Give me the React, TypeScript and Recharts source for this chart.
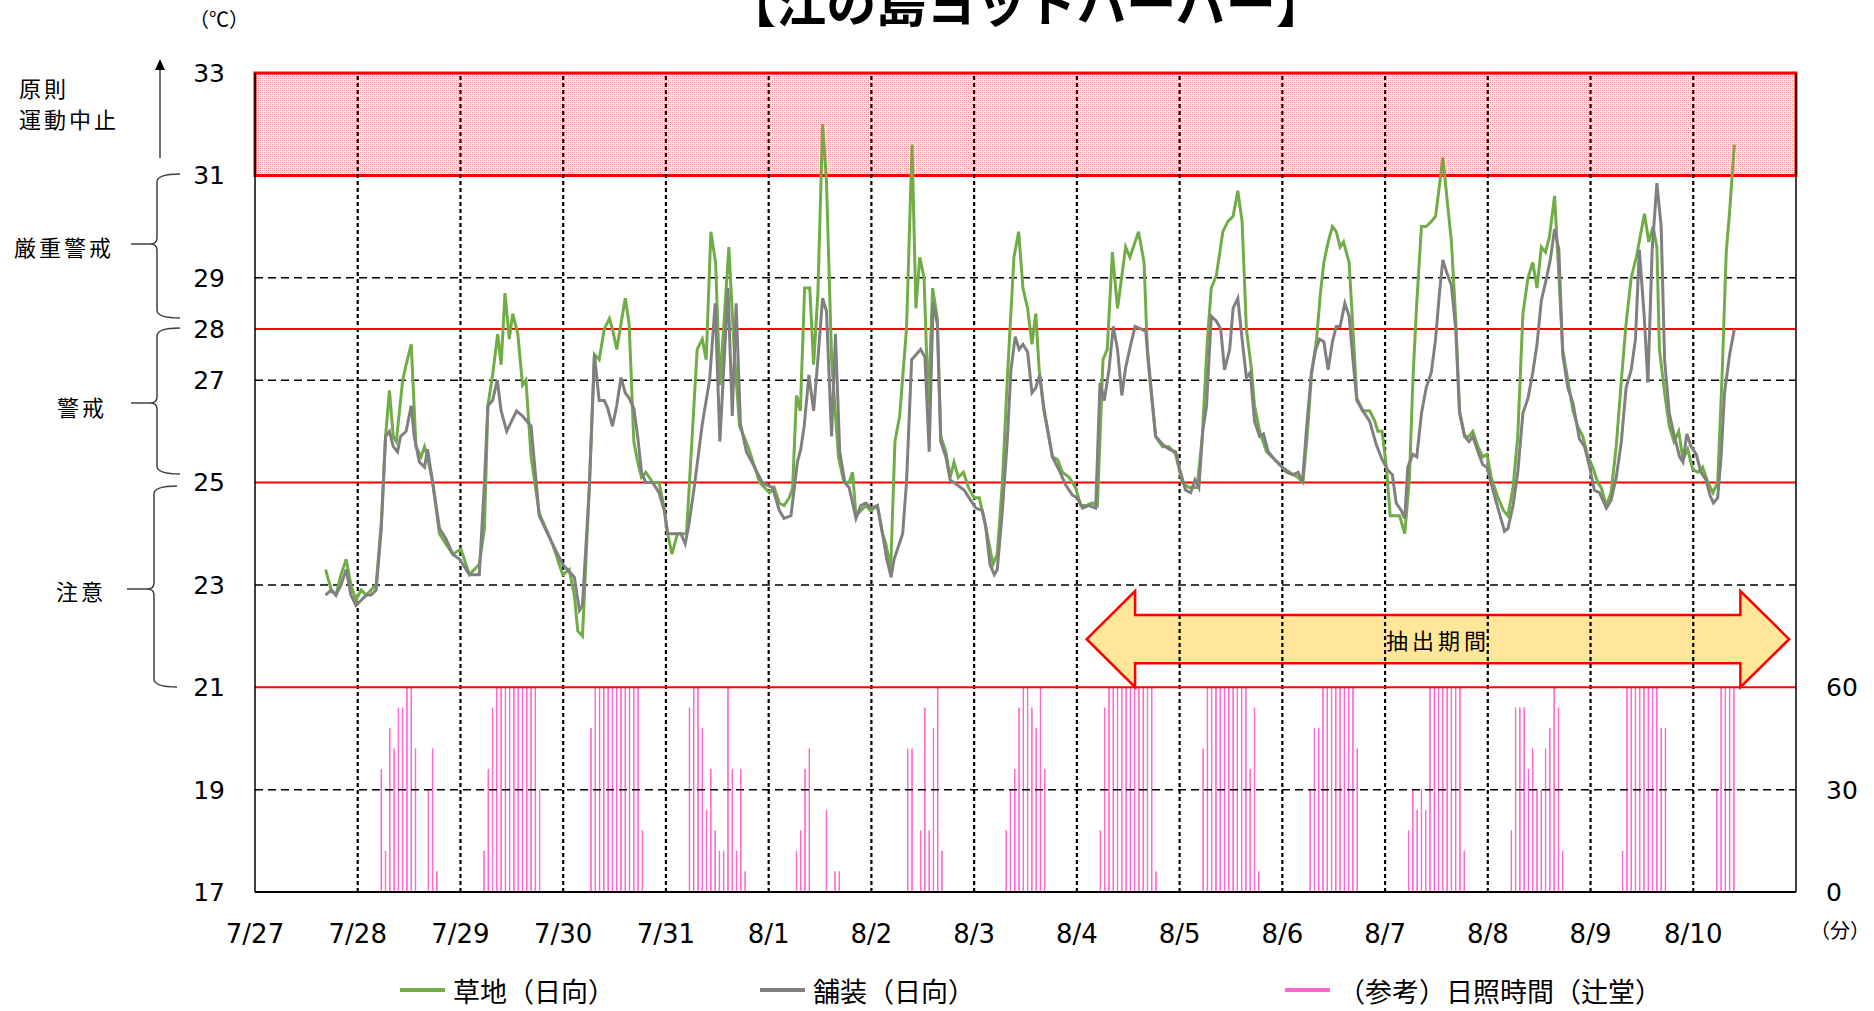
import React from 'react';
import { ComposedChart, Line, Bar, XAxis, YAxis, ReferenceLine, ReferenceArea, Legend } from 'recharts';

const W = 1874;
const H = 1011;
const JP = '"Noto Sans CJK JP", "Noto Sans", sans-serif';
const NUM = '"DejaVu Sans", sans-serif';

// x axis: hours since 7/27 0:00
const dateLabels = ['7/27', '7/28', '7/29', '7/30', '7/31', '8/1', '8/2', '8/3', '8/4', '8/5', '8/6', '8/7', '8/8', '8/9', '8/10'];
const dayTicks = dateLabels.map((_, i) => i * 24);
const tempTicks = [17, 19, 21, 23, 25, 27, 28, 29, 31, 33];
const sunTicks = [0, 30, 60];
const dashedTemps = [19, 23, 27, 29];
const redTemps = [21, 25, 28];

// 草地（日向）
const grassHours = [
  16.5, 17.8, 18.9, 20.1, 21.3, 22.4, 23.6, 24.8, 26.0, 27.1, 28.3, 29.5, 30.5, 31.4, 32.3, 33.0, 34.5, 35.3, 36.5, 37.6,
  38.8, 39.6, 40.3, 41.5, 43.1, 44.6, 46.2, 48.1, 50.1, 52.4, 53.6, 54.4, 55.5, 56.7, 57.5, 58.4, 59.4, 60.2, 61.4, 62.5,
  63.3, 64.5, 66.4, 69.5, 71.9, 73.4, 74.6, 75.4, 76.5, 78.1, 79.3, 80.4, 81.6, 82.8, 83.5, 84.5, 85.5, 86.5, 87.4, 88.5,
  89.4, 90.3, 91.3, 92.9, 94.4, 95.6, 96.4, 97.4, 98.7, 99.9, 100.8, 101.5, 103.3, 104.5, 105.4, 106.5, 107.6, 108.6, 110.7, 112.0,
  113.2, 115.2, 117.9, 120.2, 121.3, 122.5, 123.6, 124.8, 125.6, 126.5, 127.4, 128.4, 129.6, 130.5, 131.5, 132.6, 133.5, 134.7, 136.3, 137.6,
  138.8, 139.6, 140.4, 141.5, 142.7, 143.8, 145.4, 146.6, 147.4, 148.5, 149.5, 150.6, 152.2, 153.5, 154.4, 155.3, 156.3, 157.3, 158.3, 159.4,
  160.2, 161.4, 162.4, 163.3, 164.3, 165.5, 166.7, 168.0, 169.2, 170.3, 171.5, 172.4, 173.4, 174.6, 175.8, 177.3, 178.4, 179.4, 180.5, 181.5,
  182.4, 183.2, 184.3, 186.3, 187.5, 188.6, 190.2, 191.7, 192.9, 194.1, 195.6, 196.8, 198.1, 199.1, 200.3, 201.5, 203.4, 204.4, 206.4, 207.7,
  208.5, 209.2, 210.4, 212.0, 213.5, 215.1, 216.6, 218.2, 220.1, 221.3, 222.5, 223.4, 224.6, 226.1, 227.3, 228.5, 229.6, 230.6, 231.6, 232.8,
  233.5, 234.7, 236.3, 238.2, 240.0, 241.7, 243.7, 244.8, 245.8, 246.8, 248.0, 248.9, 249.7, 250.7, 251.7, 252.6, 253.5, 254.3, 255.6, 256.5,
  257.4, 258.8, 260.4, 261.6, 262.3, 263.3, 264.3, 265.2, 266.6, 267.4, 268.6, 269.7, 270.5, 271.4, 272.5, 273.6, 274.8, 275.8, 276.7, 277.5,
  278.4, 279.5, 280.5, 281.4, 282.6, 283.6, 284.5, 285.7, 286.8, 287.8, 288.8, 290.4, 291.7, 292.7, 293.9, 295.0, 296.2, 297.4, 298.5, 299.5,
  300.5, 301.5, 302.4, 303.6, 304.6, 305.5, 306.7, 307.9, 309.0, 310.2, 311.4, 312.5, 313.7, 314.5, 315.7, 316.8, 318.0, 319.2, 320.3, 321.5,
  322.7, 323.6, 324.6, 325.6, 326.6, 327.5, 328.1, 329.3, 330.4, 331.5, 332.6, 333.6, 334.7, 335.9, 337.1, 338.2, 339.4, 340.6, 341.7, 342.7,
  343.7, 344.5, 345.6,
];
const grassTemps = [
  23.3, 22.9, 22.8, 23.2, 23.5, 23.0, 22.7, 22.9, 22.8, 22.9, 23.0, 24.2, 25.9, 26.8, 25.9, 25.8, 27.0, 27.3, 27.7, 25.7,
  25.5, 25.7, 25.5, 25.0, 24.0, 23.8, 23.6, 23.7, 23.2, 23.4, 24.1, 26.5, 27.1, 27.9, 27.3, 28.7, 27.8, 28.3, 27.9, 26.9,
  27.0, 25.5, 24.4, 23.8, 23.2, 23.3, 22.8, 22.1, 22.0, 24.9, 27.5, 27.4, 28.0, 28.2, 28.0, 27.6, 28.1, 28.6, 28.1, 25.8,
  25.4, 25.1, 25.2, 25.0, 25.0, 24.5, 24.0, 23.6, 24.0, 24.0, 24.0, 25.0, 27.6, 27.8, 27.4, 29.9, 29.3, 26.9, 29.6, 27.5,
  26.1, 25.7, 25.0, 24.8, 24.9, 24.6, 24.55, 24.7, 24.9, 26.7, 26.4, 28.8, 28.8, 27.3, 28.7, 32.0, 30.9, 27.4, 25.5, 25.0,
  25.0, 25.2, 24.35, 24.45, 24.55, 24.45, 24.55, 24.0, 23.8, 23.3, 25.8, 26.3, 28.0, 31.6, 28.4, 29.4, 29.0, 26.5, 28.8, 28.2,
  25.9, 25.6, 25.1, 25.4, 25.1, 25.2, 24.9, 24.7, 24.7, 24.3, 23.8, 23.4, 23.6, 25.0, 27.1, 29.4, 29.9, 28.8, 28.4, 27.7,
  28.3, 27.2, 26.4, 25.5, 25.45, 25.2, 25.1, 24.9, 24.55, 24.55, 24.6, 24.55, 27.4, 27.6, 29.5, 28.4, 29.6, 29.4, 29.9, 29.3,
  27.5, 26.9, 25.9, 25.7, 25.7, 25.55, 25.0, 24.9, 24.9, 25.9, 27.8, 28.8, 29.05, 29.9, 30.1, 30.2, 30.7, 30.1, 28.0, 27.2,
  26.5, 26.0, 25.6, 25.45, 25.3, 25.2, 25.1, 25.0, 25.9, 27.1, 27.8, 28.7, 29.3, 29.7, 30.0, 29.9, 29.6, 29.7, 29.3, 28.0,
  26.65, 26.4, 26.4, 26.2, 26.0, 26.0, 25.3, 24.35, 24.35, 24.35, 24.0, 25.1, 27.0, 28.5, 30.0, 30.0, 30.1, 30.2, 30.8, 31.35,
  30.6, 29.7, 28.2, 26.4, 25.9, 25.9, 26.0, 25.7, 25.5, 25.55, 25.1, 24.7, 24.45, 24.35, 24.9, 25.9, 28.3, 29.0, 29.3, 28.8,
  29.6, 29.5, 29.8, 30.6, 29.05, 27.6, 27.0, 26.4, 26.1, 25.9, 25.5, 25.3, 25.0, 24.9, 24.55, 24.8, 25.7, 27.0, 28.1, 29.0,
  29.4, 29.8, 30.25, 29.7, 30.0, 29.6, 27.6, 26.75, 26.1, 25.8, 26.0, 25.45, 25.65, 25.25, 25.2, 25.3, 25.0, 24.8, 25.0, 27.0,
  29.5, 30.3, 31.6,
];

// 舗装（日向）
const pavedHours = [
  16.5, 17.8, 18.9, 20.1, 21.3, 22.4, 23.6, 24.8, 26.0, 27.1, 28.3, 29.5, 30.5, 31.4, 32.3, 33.3, 34.0, 35.3, 36.5, 37.2,
  38.4, 39.6, 40.3, 41.5, 43.1, 44.6, 46.2, 47.8, 50.1, 52.4, 53.6, 54.4, 55.5, 56.6, 57.5, 58.8, 61.1, 62.5, 64.5, 66.4,
  69.5, 71.9, 74.6, 75.8, 76.5, 78.1, 79.3, 80.4, 81.6, 82.4, 83.5, 84.5, 85.5, 86.5, 87.4, 88.5, 89.4, 90.3, 91.3, 92.9,
  94.4, 95.6, 96.4, 97.6, 99.5, 100.5, 101.4, 102.6, 104.5, 106.2, 107.5, 108.6, 110.5, 111.5, 112.4, 113.4, 114.8, 116.7, 118.5, 120.9,
  122.5, 123.6, 125.2, 126.0, 126.7, 127.5, 128.3, 129.4, 130.5, 131.5, 132.6, 133.5, 134.7, 135.6, 136.6, 137.8, 138.8, 140.4, 141.5, 142.7,
  143.9, 145.4, 146.6, 147.6, 148.6, 149.3, 151.3, 152.2, 153.4, 155.5, 156.5, 157.5, 158.4, 159.4, 160.2, 161.4, 162.4, 164.1, 165.7, 167.2,
  168.4, 169.9, 170.7, 171.7, 172.7, 173.4, 174.6, 175.8, 176.6, 177.6, 178.5, 179.4, 180.5, 181.5, 182.4, 183.3, 184.3, 186.3, 187.8, 189.4,
  191.0, 192.1, 193.3, 194.8, 196.4, 197.4, 198.4, 199.5, 200.5, 201.5, 202.5, 203.4, 204.6, 205.6, 206.9, 208.1, 209.2, 210.4, 212.0, 213.5,
  215.1, 216.2, 217.4, 218.6, 219.6, 220.5, 221.4, 222.3, 223.4, 224.6, 225.6, 226.5, 227.7, 228.5, 229.6, 230.6, 231.6, 232.5, 233.5, 234.7,
  235.6, 236.7, 238.2, 239.4, 241.0, 242.5, 243.7, 244.7, 245.6, 246.8, 247.8, 248.7, 249.7, 250.7, 251.7, 252.6, 253.5, 254.6, 255.6, 256.5,
  257.4, 258.8, 260.4, 261.9, 263.3, 264.6, 265.7, 266.6, 267.8, 268.6, 269.3, 270.5, 271.4, 272.5, 273.6, 274.8, 275.8, 276.7, 277.5, 278.4,
  279.5, 280.5, 281.4, 282.6, 283.6, 284.5, 285.7, 286.8, 287.8, 289.2, 290.7, 291.9, 292.7, 293.9, 295.0, 296.2, 297.4, 298.5, 299.5, 300.5,
  301.6, 302.6, 303.6, 304.6, 305.5, 306.7, 307.9, 309.4, 310.6, 311.8, 312.9, 314.1, 315.7, 316.8, 318.0, 319.2, 320.3, 321.5, 322.5, 323.4,
  324.5, 325.4, 326.4, 327.5, 328.5, 329.3, 330.4, 331.6, 332.8, 333.6, 334.5, 335.5, 336.7, 337.8, 339.0, 339.9, 340.7, 341.7, 342.5, 343.3,
  344.5, 345.6,
];
const pavedTemps = [
  22.8, 22.9, 22.8, 23.0, 23.3, 22.8, 22.6, 22.7, 22.8, 22.8, 22.9, 24.1, 25.9, 26.0, 25.7, 25.6, 25.9, 26.0, 26.5, 25.9,
  25.4, 25.3, 25.65, 25.0, 24.1, 23.9, 23.6, 23.5, 23.2, 23.2, 25.0, 26.5, 26.6, 27.0, 26.4, 26.0, 26.4, 26.3, 26.1, 24.35,
  23.8, 23.4, 23.15, 22.5, 22.6, 24.9, 27.5, 26.6, 26.6, 26.45, 26.1, 26.5, 27.05, 26.75, 26.65, 26.45, 25.9, 25.2, 25.0, 25.0,
  24.8, 24.45, 24.0, 24.0, 24.0, 23.8, 24.2, 24.9, 26.15, 27.0, 28.5, 25.8, 28.8, 26.3, 28.5, 26.15, 25.6, 25.3, 25.0, 24.9,
  24.45, 24.3, 24.35, 24.9, 25.4, 25.65, 26.1, 27.1, 26.4, 27.4, 28.6, 28.35, 25.9, 27.9, 25.6, 25.0, 24.9, 24.3, 24.55, 24.6,
  24.5, 24.55, 24.0, 23.5, 23.15, 23.5, 24.0, 25.0, 27.4, 27.6, 27.45, 25.6, 28.5, 28.1, 25.8, 25.5, 25.05, 24.95, 24.85, 24.65,
  24.5, 24.45, 24.15, 23.4, 23.2, 23.3, 24.45, 25.9, 27.2, 27.85, 27.6, 27.7, 27.55, 26.75, 26.85, 27.1, 26.45, 25.5, 25.25, 24.95,
  24.75, 24.7, 24.5, 24.55, 24.5, 26.95, 26.6, 27.2, 28.05, 27.6, 26.7, 27.25, 27.7, 28.05, 28.0, 27.95, 26.95, 25.9, 25.75, 25.65,
  25.6, 25.2, 24.85, 24.8, 25.05, 24.9, 26.0, 26.5, 28.25, 28.15, 28.0, 27.2, 27.6, 28.4, 28.6, 27.8, 27.05, 27.15, 26.2, 25.9,
  25.95, 25.6, 25.45, 25.35, 25.2, 25.15, 25.2, 25.0, 26.0, 27.15, 27.6, 27.8, 27.75, 27.2, 27.75, 28.05, 28.05, 28.5, 28.25, 27.4,
  26.6, 26.4, 26.2, 25.75, 25.45, 25.25, 25.15, 24.6, 24.45, 24.3, 25.3, 25.55, 25.5, 26.35, 26.85, 27.15, 27.8, 28.7, 29.35, 29.1,
  28.85, 28.0, 26.35, 25.9, 25.8, 25.9, 25.6, 25.35, 25.3, 24.85, 24.4, 24.05, 24.1, 24.55, 25.2, 26.35, 26.65, 27.15, 27.7, 28.55,
  28.95, 29.35, 29.95, 29.55, 27.5, 26.85, 26.55, 25.85, 25.7, 25.3, 24.85, 24.8, 24.5, 24.65, 25.1, 25.8, 26.85, 27.2, 27.8, 29.55,
  28.3, 26.95, 29.55, 30.85, 30.0, 27.4, 26.35, 25.9, 25.5, 25.4, 25.95, 25.7, 25.55, 25.2, 25.05, 24.75, 24.6, 24.7, 25.5, 26.75,
  27.5, 28.0,
];

// （参考）日照時間（辻堂）: minutes per hour, by day (index from 7/27) starting at sunFirstHour
const sunDays = [1, 2, 3, 4, 5, 6, 7, 8, 9, 10, 11, 12, 13, 14];
const sunFirstHour = [5, 5, 6, 5, 6, 8, 7, 5, 5, 6, 5, 5, 7, 5];
const sunMinutes = [
  [36, 12, 48, 42, 54, 54, 60, 60, 42, 0, 0, 30, 42, 6],
  [12, 36, 54, 60, 60, 60, 60, 60, 60, 60, 60, 60, 60, 30],
  [48, 60, 60, 60, 60, 60, 60, 60, 60, 60, 60, 60, 18],
  [54, 60, 60, 48, 24, 36, 18, 12, 12, 60, 36, 12, 36, 6],
  [12, 18, 36, 42, 0, 0, 0, 24, 0, 6, 6],
  [42, 42, 0, 18, 54, 18, 48, 60, 12],
  [18, 30, 36, 54, 60, 60, 54, 48, 60, 36],
  [18, 54, 60, 60, 60, 60, 60, 60, 60, 60, 60, 60, 60, 6],
  [42, 60, 60, 60, 60, 60, 60, 60, 60, 60, 60, 36, 54, 6],
  [30, 48, 48, 60, 60, 60, 60, 60, 60, 60, 60, 42],
  [18, 30, 24, 30, 24, 60, 60, 60, 60, 60, 60, 60, 60, 12],
  [18, 54, 54, 54, 36, 42, 30, 30, 42, 48, 60, 54, 12],
  [12, 60, 60, 60, 60, 60, 60, 60, 60, 48, 48],
  [30, 60, 60, 60, 60],
];

// 抽出期間 arrow (hours / ℃)
const extractTips = [194.3, 358.4];
const extractHeadBase = [205.6, 347.0];
const arrowHeadTemps = [21.0, 22.88];
const arrowBodyTemps = [21.47, 22.41];
const arrowTipTemp = 21.94;

const buildRows = () => {
  const map = new Map();
  const row = (t) => {
    const k = Math.round(t * 100);
    if (!map.has(k)) map.set(k, { t });
    return map.get(k);
  };
  grassHours.forEach((t, i) => { row(t).grass = grassTemps[i]; });
  pavedHours.forEach((t, i) => { row(t).paved = pavedTemps[i]; });
  sunDays.forEach((d, i) => {
    sunMinutes[i].forEach((m, j) => {
      row(d * 24 + sunFirstHour[i] + j + 0.5).sun = m;
    });
  });
  return Array.from(map.values()).sort((a, b) => a.t - b.t);
};
const rows = buildRows();

const ArrowShape = (props: any) => {
  const { x, y, width, height } = props;
  const sx = (h: number) => x + ((h - extractTips[0]) / (extractTips[1] - extractTips[0])) * width;
  const sy = (v: number) => y + ((arrowHeadTemps[1] - v) / (arrowHeadTemps[1] - arrowHeadTemps[0])) * height;
  const pts = [
    [sx(extractTips[0]), sy(arrowTipTemp)],
    [sx(extractHeadBase[0]), sy(arrowHeadTemps[1])],
    [sx(extractHeadBase[0]), sy(arrowBodyTemps[1])],
    [sx(extractHeadBase[1]), sy(arrowBodyTemps[1])],
    [sx(extractHeadBase[1]), sy(arrowHeadTemps[1])],
    [sx(extractTips[1]), sy(arrowTipTemp)],
    [sx(extractHeadBase[1]), sy(arrowHeadTemps[0])],
    [sx(extractHeadBase[1]), sy(arrowBodyTemps[0])],
    [sx(extractHeadBase[0]), sy(arrowBodyTemps[0])],
    [sx(extractHeadBase[0]), sy(arrowHeadTemps[0])],
  ];
  return (
    <g>
      <polygon points={pts.map((p) => p.join(',')).join(' ')} fill="#ffe699" stroke="#ff0000" strokeWidth={2.5} />
      <text x={x + width / 2} y={sy(arrowTipTemp)} textAnchor="middle" dominantBaseline="central"
        fontFamily={JP} fontSize={22} letterSpacing={4} fill="#000">抽出期間</text>
    </g>
  );
};

const legendX: Record<string, number> = { grass: 400, paved: 760, sun: 1285 };
const legendColor: Record<string, string> = { grass: '#70ad47', paved: '#808080', sun: '#ff66cc' };

const renderLegend = (props: any) => {
  const items = (props.payload || []).filter((p: any) => legendX[p.dataKey] !== undefined);
  return (
    <div style={{ position: 'relative', width: W, height: 44, fontFamily: JP, fontSize: 27, color: '#000' }}>
      {items.map((p: any) => (
        <div key={p.dataKey} style={{ position: 'absolute', left: legendX[p.dataKey], top: 0, height: 44, display: 'flex', alignItems: 'center', whiteSpace: 'nowrap' }}>
          <span style={{ display: 'inline-block', width: 45, height: 4, background: legendColor[p.dataKey], marginRight: 8 }} />
          <span>{p.value}</span>
        </div>
      ))}
    </div>
  );
};

const Brace = ({ top, bottom, mid, x, tip, leftEnd }: any) => (
  <g fill="none" stroke="#404040" strokeWidth={1.5}>
    <path d={`M ${x + 23} ${top} Q ${x} ${top} ${x} ${top + 8} L ${x} ${mid - 6} Q ${x} ${mid} ${tip} ${mid} Q ${x} ${mid} ${x} ${mid + 6} L ${x} ${bottom - 8} Q ${x} ${bottom} ${x + 23} ${bottom}`} />
    <line x1={leftEnd} y1={mid} x2={tip} y2={mid} />
  </g>
);

export default function App() {
  return (
    <div style={{ position: 'absolute', left: 0, top: 0, width: W, height: H, background: '#fff', overflow: 'hidden' }}>
      <svg width={0} height={0} style={{ position: 'absolute' }}>
        <defs>
          <pattern id="dangerDots" width="4" height="4" patternUnits="userSpaceOnUse">
            <rect width="4" height="4" fill="#fde6e6" />
            <rect x="0" y="0" width="1" height="1" fill="#ef8c8c" />
            <rect x="2" y="2" width="1" height="1" fill="#ef8c8c" />
            <rect x="2" y="0" width="1" height="1" fill="#f6b6b6" />
            <rect x="0" y="2" width="1" height="1" fill="#f6b6b6" />
          </pattern>
        </defs>
      </svg>
      <ComposedChart width={W} height={H} data={rows} margin={{ top: 73, right: 18, bottom: 59, left: 195 }}>
        <XAxis dataKey="t" type="number" domain={[0, 360]} ticks={dayTicks} allowDataOverflow
          tickFormatter={(v) => dateLabels[Math.round(v / 24)] || ''} tickSize={0} tickMargin={33} height={60}
          axisLine={{ stroke: '#000', strokeWidth: 2 }} tickLine={false}
          tick={{ fill: '#000', fontSize: 26, fontFamily: NUM }} interval={0} />
        <YAxis domain={[17, 33]} ticks={tempTicks} interval={0} width={60} tickSize={0} tickMargin={30}
          axisLine={{ stroke: '#000', strokeWidth: 1.5 }} tickLine={false}
          tick={{ fill: '#000', fontSize: 25, fontFamily: NUM }} />
        <YAxis yAxisId="sun" orientation="right" domain={[0, 240]} ticks={sunTicks} interval={0} width={60}
          tickSize={0} tickMargin={30} axisLine={{ stroke: '#000', strokeWidth: 1.5 }} tickLine={false}
          tick={{ fill: '#000', fontSize: 25, fontFamily: NUM, textAnchor: 'start' }} />
        <ReferenceArea y1={31} y2={33} fill="url(#dangerDots)" fillOpacity={1} stroke="#ff0000" strokeWidth={3} />
        {dashedTemps.map((v) => (
          <ReferenceLine key={`d${v}`} y={v} stroke="#000" strokeWidth={1.5} strokeDasharray="8 5" />
        ))}
        {dayTicks.slice(1).map((v) => (
          <ReferenceLine key={`v${v}`} x={v} stroke="#000" strokeWidth={2.2} strokeDasharray="4 3" />
        ))}
        {redTemps.map((v) => (
          <ReferenceLine key={`r${v}`} y={v} stroke="#ff0000" strokeWidth={2} />
        ))}
        <ReferenceArea x1={extractTips[0]} x2={extractTips[1]} y1={arrowHeadTemps[0]} y2={arrowHeadTemps[1]} shape={ArrowShape} />
        <Bar dataKey="sun" yAxisId="sun" name="（参考）日照時間（辻堂）" barSize={3} fill="#ff9ddb" stroke="#ff66cc" strokeWidth={1}
          isAnimationActive={false} legendType="line" />
        <Line dataKey="grass" name="草地（日向）" stroke="#70ad47" strokeWidth={3} dot={false} connectNulls
          isAnimationActive={false} type="linear" />
        <Line dataKey="paved" name="舗装（日向）" stroke="#808080" strokeWidth={3} dot={false} connectNulls
          isAnimationActive={false} type="linear" />
        <Legend layout="horizontal" verticalAlign="middle" align="center" content={renderLegend}
          wrapperStyle={{ position: 'absolute', left: 0, top: 968, width: W, height: 44 }} />
      </ComposedChart>
      <svg width={W} height={H} style={{ position: 'absolute', left: 0, top: 0, pointerEvents: 'none' }}>
        <text x={1026} y={22} textAnchor="middle" fontFamily={JP} fontSize={50} fontWeight="bold" fill="#000">【江の島ヨットハーバー】</text>
        <text x={219} y={18} textAnchor="middle" dominantBaseline="central" fontFamily={JP} fontSize={20} fill="#000">（℃）</text>
        <g fontFamily={JP} fontSize={22} letterSpacing={3} fill="#000">
          <text x={19} y={87} dominantBaseline="central">原則</text>
          <text x={19} y={118} dominantBaseline="central">運動中止</text>
          <text x={14} y={246} dominantBaseline="central">厳重警戒</text>
          <text x={57} y={406} dominantBaseline="central">警戒</text>
          <text x={56} y={590} dominantBaseline="central">注意</text>
        </g>
        <line x1={160} y1={158} x2={160} y2={68} stroke="#404040" strokeWidth={1.5} />
        <polygon points="160,59 155,70 165,70" fill="#000" />
        <Brace top={174} bottom={318} mid={244} x={157} tip={150} leftEnd={131} />
        <Brace top={328} bottom={474} mid={403} x={157} tip={150} leftEnd={131} />
        <Brace top={486} bottom={687} mid={589} x={154} tip={147} leftEnd={127} />
        <text x={1840} y={929} textAnchor="middle" dominantBaseline="central" fontFamily={JP} fontSize={20} fill="#000">（分）</text>
      </svg>
    </div>
  );
}
